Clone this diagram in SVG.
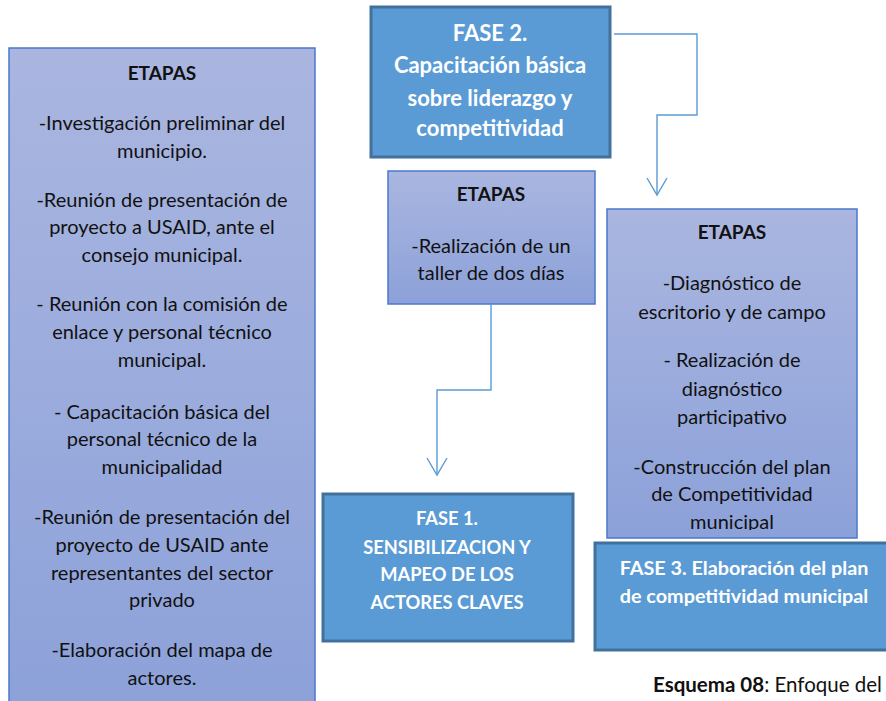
<svg xmlns="http://www.w3.org/2000/svg" width="886" height="701" viewBox="0 0 886 701">
<defs>
<linearGradient id="etGrad" x1="0" y1="0" x2="0" y2="1">
<stop offset="0" stop-color="#aab6e0"/>
<stop offset="1" stop-color="#8ca1d9"/>
</linearGradient>
<clipPath id="clipR"><rect x="600" y="200" width="270" height="330"/></clipPath>
<style>
.et{fill:url(#etGrad);stroke:#4a78cc;stroke-width:1.5}
.fase{fill:#5b9bd5;stroke:#41719c;stroke-width:3}
.t{font-family:"Lato","Open Sans",sans-serif;font-size:20px;fill:#111;text-anchor:middle}
.h{font-family:"Lato","Open Sans",sans-serif;font-size:19px;font-weight:bold;fill:#111;text-anchor:middle}
.w{font-family:"Lato","Open Sans",sans-serif;font-weight:bold;fill:#fff;text-anchor:middle}
.c{fill:none;stroke:#5b9bd5;stroke-width:1.4}
</style>
</defs>
<rect width="886" height="701" fill="#fff"/>

<g id="etapas-left">
<rect class="et" x="9" y="48" width="306" height="670"/>
<text class="h" x="162" y="80">ETAPAS</text>
<text class="t" x="162" y="130">-Investigación preliminar del</text>
<text class="t" x="162" y="158">municipio.</text>
<text class="t" x="162" y="207">-Reunión de presentación de</text>
<text class="t" x="162" y="234">proyecto a USAID, ante el</text>
<text class="t" x="162" y="262">consejo municipal.</text>
<text class="t" x="162" y="311">- Reunión con la comisión de</text>
<text class="t" x="162" y="339">enlace y personal técnico</text>
<text class="t" x="162" y="367">municipal.</text>
<text class="t" x="162" y="419">- Capacitación básica del</text>
<text class="t" x="162" y="446">personal técnico de la</text>
<text class="t" x="162" y="474">municipalidad</text>
<text class="t" x="162" y="524">-Reunión de presentación del</text>
<text class="t" x="162" y="552">proyecto de USAID ante</text>
<text class="t" x="162" y="580">representantes del sector</text>
<text class="t" x="162" y="607">privado</text>
<text class="t" x="162" y="657">-Elaboración del mapa de</text>
<text class="t" x="162" y="685">actores.</text>
</g>

<g id="fase2">
<rect class="fase" x="371" y="7" width="239" height="150"/>
<g class="w" font-size="22">
<text x="490" y="41">FASE 2.</text>
<text x="490" y="73">Capacitación básica</text>
<text x="490" y="106">sobre liderazgo y</text>
<text x="490" y="136">competitividad</text>
</g>
</g>

<g id="etapas-mid">
<rect class="et" x="388" y="171" width="207" height="133"/>
<text class="h" x="491" y="201">ETAPAS</text>
<text class="t" x="491" y="253" font-size="19.5">-Realización de un</text>
<text class="t" x="491" y="280" font-size="19.5">taller de dos días</text>
</g>

<g id="etapas-right">
<rect class="et" x="607" y="209" width="250" height="329"/>
<g clip-path="url(#clipR)">
<text class="h" x="732" y="239">ETAPAS</text>
<text class="t" x="732" y="290">-Diagnóstico de</text>
<text class="t" x="732" y="319">escritorio y de campo</text>
<text class="t" x="732" y="367">- Realización de</text>
<text class="t" x="732" y="396">diagnóstico</text>
<text class="t" x="732" y="424">participativo</text>
<text class="t" x="732" y="474">-Construcción del plan</text>
<text class="t" x="732" y="501">de Competitividad</text>
<text class="t" x="732" y="529">municipal</text>
</g>
</g>

<g id="fase1">
<rect class="fase" x="323" y="494" width="250" height="147"/>
<g class="w" font-size="18.3">
<text x="447" y="525">FASE 1.</text>
<text x="447" y="554">SENSIBILIZACION Y</text>
<text x="447" y="581">MAPEO DE LOS</text>
<text x="447" y="609">ACTORES CLAVES</text>
</g>
</g>

<g id="fase3">
<rect class="fase" x="595" y="543" width="300" height="107"/>
<g class="w" font-size="19.8">
<text x="744" y="575">FASE 3. Elaboración del plan</text>
<text x="744" y="603">de competitividad municipal</text>
</g>
</g>

<g id="connectors">
<path class="c" d="M614 34 H697 V115 H657 V195"/>
<path class="c" d="M647 178 L657 195 L667 178"/>
<path class="c" d="M491 304 V390 H437 V475"/>
<path class="c" d="M427 458 L437 475 L447 458"/>
</g>

<g id="caption">
<text x="653" y="692" style="font-family:Lato,'Open Sans',sans-serif;font-size:20.5px;fill:#111"><tspan font-weight="bold">Esquema 08</tspan>: Enfoque del</text>
</g>
</svg>
